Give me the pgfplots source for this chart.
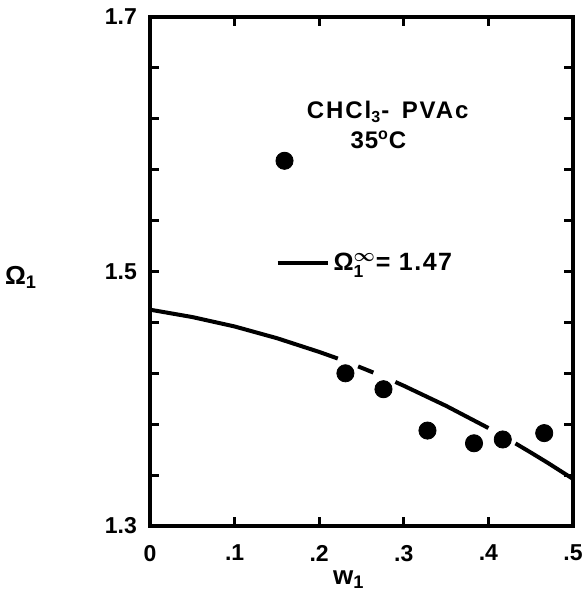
\documentclass[border=0pt]{standalone}
\usepackage{fontspec}
\setmainfont{Liberation Sans}
\usepackage{amsmath}
\usepackage{pgfplots}
\pgfplotsset{compat=1.18}

\begin{document}
\begin{tikzpicture}
\useasboundingbox (-75pt,-34.5pt) rectangle (216.5pt,263pt);
\begin{axis}[
  scale only axis, width=211.5pt, height=254.5pt,
  xmin=0, xmax=0.5, ymin=1.3, ymax=1.7,
  xtick={0,0.1,0.2,0.3,0.4,0.5}, xticklabels={0,.1,.2,.3,.4,.5},
  ytick={1.3,1.5,1.7}, yticklabels={1.3,1.5,1.7},
  minor ytick={1.34,1.38,1.42,1.46,1.54,1.58,1.62,1.66},
  major tick length=4.5pt, minor tick length=4.5pt,
  tick style={line width=1.6pt, black},
  minor tick style={line width=1.6pt, black},
  axis line style={line width=2pt},
  /pgf/number format/assume math mode=true,
  tick label style={font=\bfseries\fontsize{11.5}{13}\selectfont},
  yticklabel style={xshift=-3pt},
  xticklabel style={yshift=-6pt},
  xlabel={w\textsubscript{1}}, ylabel={Ω\textsubscript{1}},
  label style={font=\bfseries\fontsize{13}{15}\selectfont},
  xlabel style={at={(axis description cs:0.47,-0.106)}, anchor=center},
  ylabel style={rotate=-90, at={(axis description cs:-0.305,0.489)}, anchor=center},
  legend style={at={(axis description cs:0.296,0.517)}, anchor=west,
    draw=none, fill=none, inner sep=0pt,
    font=\bfseries\fontsize{12.5}{14}\selectfont\addfontfeature{LetterSpace=6}},
  legend image code/.code={\draw[line width=2pt] (0pt,0pt) -- (25pt,0pt);},
]
% measured points
\addplot[only marks, mark=*, mark size=4.3pt, black, forget plot] coordinates {
  (0.159,1.587) (0.231,1.420) (0.276,1.4075) (0.328,1.375)
  (0.383,1.365) (0.417,1.368) (0.466,1.373)
};
% fitted curve, broken where it passes the points
\addplot[black, line width=2pt] coordinates {
  (0,1.470) (0.05,1.4642) (0.1,1.4568) (0.15,1.4476) (0.2,1.4368) (0.222,1.4316)
};
\addlegendentry{Ω$^{\boldsymbol{\infty}}_{\text{\bfseries 1}}$= 1.47}
\addplot[black, line width=2pt, forget plot] coordinates {
  (0.246,1.4254) (0.264,1.4206)
};
\addplot[black, line width=2pt, forget plot] coordinates {
  (0.29,1.4132) (0.3,1.4102) (0.35,1.3944) (0.40,1.3770)
};
\addplot[black, line width=2pt, forget plot] coordinates {
  (0.432,1.3649) (0.45,1.3578) (0.47,1.3497) (0.5,1.3370)
};
\node[font=\bfseries\fontsize{12}{14}\selectfont\addfontfeature{LetterSpace=8}] at (axis cs:0.281,1.6255)
  {CHCl\textsubscript{3}- \,PVAc};
\node[font=\bfseries\fontsize{12}{14}\selectfont\addfontfeature{LetterSpace=4}] at (axis cs:0.270,1.6035)
  {35\textsuperscript{o}C};
\end{axis}
\end{tikzpicture}
\end{document}
